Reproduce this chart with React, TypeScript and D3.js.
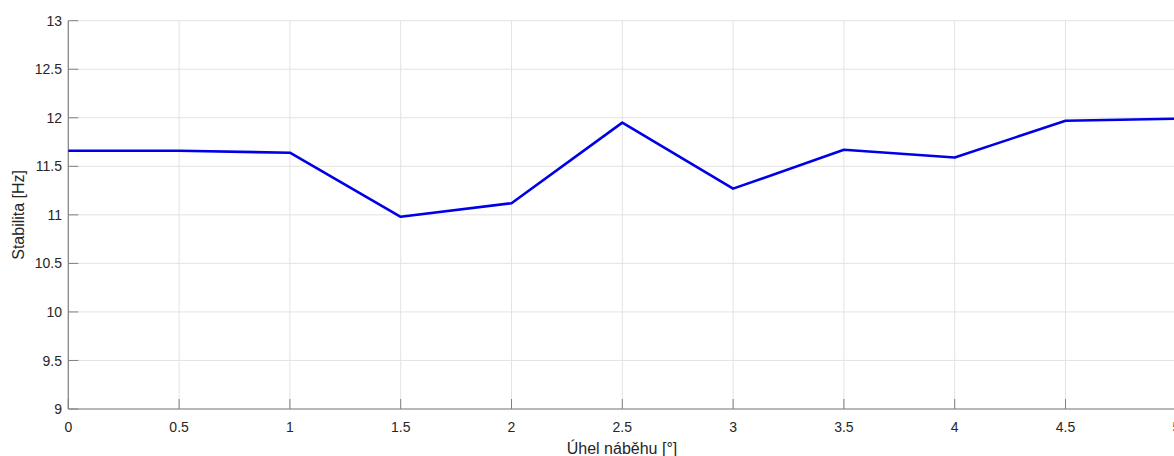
import React from "react";
import * as d3 from "d3";

const angles = [0, 0.5, 1, 1.5, 2, 2.5, 3, 3.5, 4, 4.5, 5];
const stability = [11.66, 11.66, 11.64, 10.98, 11.12, 11.95, 11.27, 11.67, 11.59, 11.97, 11.99];
const xTicks = [0, 0.5, 1, 1.5, 2, 2.5, 3, 3.5, 4, 4.5, 5];
const yTicks = [9, 9.5, 10, 10.5, 11, 11.5, 12, 12.5, 13];
const xLabel = "Úhel náběhu [°]";
const yLabel = "Stabilita [Hz]";

export default function App() {
  const W = 1174, H = 456;
  const x = d3.scaleLinear().domain([0, 5]).range([68.3, 1176.3]);
  const y = d3.scaleLinear().domain([9, 13]).range([409, 20.7]);
  const line = d3.line<number>().x((_, i) => x(angles[i])).y((d) => y(d));
  const font = "Helvetica, Arial, 'Liberation Sans', sans-serif";
  const axisColor = "#808080";
  const textColor = "#262626";
  return (
    <svg width={W} height={H} style={{ position: "absolute", left: 0, top: 0, background: "#fff" }} fontFamily={font}>
      {xTicks.map((t) => (
        <line key={"gx" + t} x1={x(t)} x2={x(t)} y1={y(13)} y2={y(9)} stroke="#e3e3e3" strokeWidth={1} />
      ))}
      {yTicks.map((t) => (
        <line key={"gy" + t} x1={x(0)} x2={x(5)} y1={y(t)} y2={y(t)} stroke="#e3e3e3" strokeWidth={1} />
      ))}
      <line x1={x(0)} x2={x(0)} y1={y(13)} y2={y(9)} stroke={axisColor} strokeWidth={1.2} />
      <line x1={x(0)} x2={x(5)} y1={y(9)} y2={y(9)} stroke={axisColor} strokeWidth={1.2} />
      {xTicks.map((t) => (
        <g key={"tx" + t}>
          <line x1={x(t)} x2={x(t)} y1={y(9)} y2={y(9) - 10} stroke={axisColor} strokeWidth={1} />
          <text x={x(t)} y={432} textAnchor="middle" fontSize={14} fill={textColor}>{t}</text>
        </g>
      ))}
      {yTicks.map((t) => (
        <g key={"ty" + t}>
          <line x1={x(0)} x2={x(0) + 10} y1={y(t)} y2={y(t)} stroke={axisColor} strokeWidth={1} />
          <text x={62} y={y(t)} dy="0.36em" textAnchor="end" fontSize={14} fill={textColor}>{t}</text>
        </g>
      ))}
      <path d={line(stability) || ""} fill="none" stroke="#0000e6" strokeWidth={2.6} strokeLinejoin="round" />
      <text x={622} y={454} textAnchor="middle" fontSize={16} fill={textColor}>{xLabel}</text>
      <text transform={`translate(24, ${(y(9) + y(13)) / 2}) rotate(-90)`} textAnchor="middle" fontSize={16} fill={textColor}>{yLabel}</text>
    </svg>
  );
}
